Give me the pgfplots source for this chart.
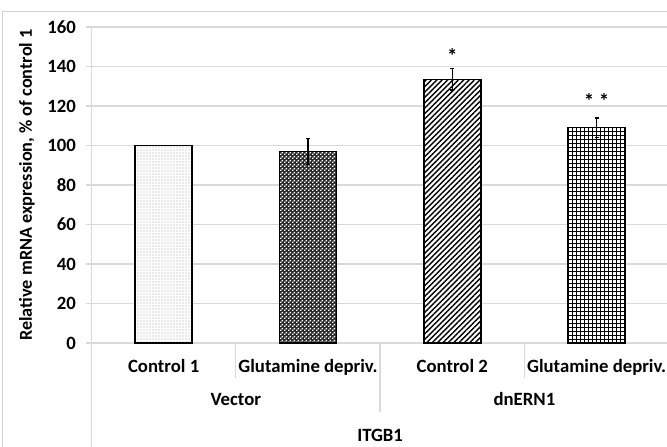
\documentclass[border=0pt]{standalone}
\usepackage{pgfplots}
\pgfplotsset{compat=1.18}
\usepackage{fontspec}
\setmainfont{Carlito}
\usetikzlibrary{patterns,patterns.meta}
\definecolor{gridgray}{HTML}{D9D9D9}
\definecolor{framegray}{HTML}{D0D0D0}
\newcommand{\lab}{\fontsize{18.8}{22}\selectfont\bfseries}
\pgfdeclarepatternformonly{smallchecker}{\pgfpointorigin}{\pgfqpoint{4bp}{4bp}}{\pgfqpoint{4bp}{4bp}}{%
  \pgfpathrectangle{\pgfpointorigin}{\pgfqpoint{1.8bp}{1.8bp}}%
  \pgfpathrectangle{\pgfqpoint{2bp}{2bp}}{\pgfqpoint{1.8bp}{1.8bp}}%
  \pgfusepath{fill}}
\begin{document}
\begin{tikzpicture}[x=1bp,y=1bp]
\path[use as bounding box] (-91.5,-104) rectangle (575.5,343);
\draw[framegray, line width=1bp] (-88.5,-104) -- (-88.5,331) -- (575.5,331);
\begin{axis}[
  at={(0,0)}, anchor=south west,
  scale only axis, width=575.5bp, height=316bp,
  xmin=-0.5, xmax=3.488, ymin=0, ymax=160,
  ytick={0,20,...,160},
  xtick={0,1,2,3},
  xticklabels={Control 1, Glutamine depriv., Control 2, Glutamine depriv.},
  xtick style={draw=none},
  ymajorgrids, grid style={gridgray, line width=1.3bp},
  axis line style={draw=none},
  ytick style={gridgray, line width=1.3bp},
  tick align=outside, major tick length=5.5bp,
  /pgf/number format/assume math mode=true,
  every tick label/.append style={font=\lab, text=black},
  yticklabel style={anchor=east, inner sep=0pt, xshift=-10bp},
  xticklabel style={anchor=base, inner sep=0pt, yshift=-24bp},
  ylabel={Relative mRNA expression, \% of control 1},
  every axis y label/.style={at={(axis description cs:0,0.5)}, xshift=-64.5bp, rotate=90, anchor=center, font=\fontsize{18.3}{22}\selectfont\bfseries},
  clip=false,
]
\addplot[ybar, bar width=57bp, bar shift=0pt, draw=black, line width=1.5bp,
  preaction={fill=white}, pattern={Dots[distance=3bp, radius=0.6bp]}, pattern color=gray!70]
  coordinates {(0,100)};
\addplot[ybar, bar width=57bp, bar shift=0pt, draw=black, line width=1.5bp,
  preaction={fill=black!85}, pattern=smallchecker, pattern color=white,
  error bars/.cd, y dir=both, y explicit,
  error bar style={line width=1.5bp, draw=black},
  error mark options={rotate=90, mark size=2bp, line width=1.5bp, draw=black}]
  coordinates {(1,97) +- (0,6.5)};
\addplot[ybar, bar width=57bp, bar shift=0pt, draw=black, line width=1.5bp,
  preaction={fill=white}, pattern={Lines[angle=45, distance=3.8bp, line width=1.4bp]}, pattern color=black,
  error bars/.cd, y dir=both, y explicit,
  error bar style={line width=1.5bp, draw=black},
  error mark options={rotate=90, mark size=2bp, line width=1.5bp, draw=black}]
  coordinates {(2,133.5) +- (0,5.5)};
\addplot[ybar, bar width=57bp, bar shift=0pt, draw=black, line width=1.5bp,
  preaction={fill=white}, pattern={Hatch[angle=0, distance=4bp, line width=0.8bp]}, pattern color=black,
  error bars/.cd, y dir=both, y explicit,
  error bar style={line width=1.5bp, draw=black},
  error mark options={rotate=90, mark size=2bp, line width=1.5bp, draw=black}]
  coordinates {(3,109) +- (0,5)};
\addplot[draw=none, mark=none, nodes near coords, point meta=explicit symbolic,
  every node near coord/.style={anchor=center, font=\fontsize{21}{24}\selectfont\bfseries, text=black}]
  coordinates {(2,145.5)[*] (3,122.5)[* *]};
\draw[gridgray, line width=1.3bp] (axis cs:-0.5,160) -- ([yshift=-104bp]axis cs:-0.5,0);
\draw[gridgray, line width=1.3bp] (axis cs:0.5,0) -- ([yshift=-35bp]axis cs:0.5,0);
\draw[gridgray, line width=1.3bp] (axis cs:2.5,0) -- ([yshift=-35bp]axis cs:2.5,0);
\draw[gridgray, line width=1.3bp] (axis cs:1.5,0) -- ([yshift=-69bp]axis cs:1.5,0);
\node[font=\lab, anchor=base] at ([yshift=-63bp]axis cs:0.5,0) {Vector};
\node[font=\lab, anchor=base] at ([yshift=-63bp]axis cs:2.5,0) {dnERN1};
\node[font=\lab, anchor=base] at ([yshift=-99bp]axis cs:1.5,0) {ITGB1};
\end{axis}
\end{tikzpicture}
\end{document}
